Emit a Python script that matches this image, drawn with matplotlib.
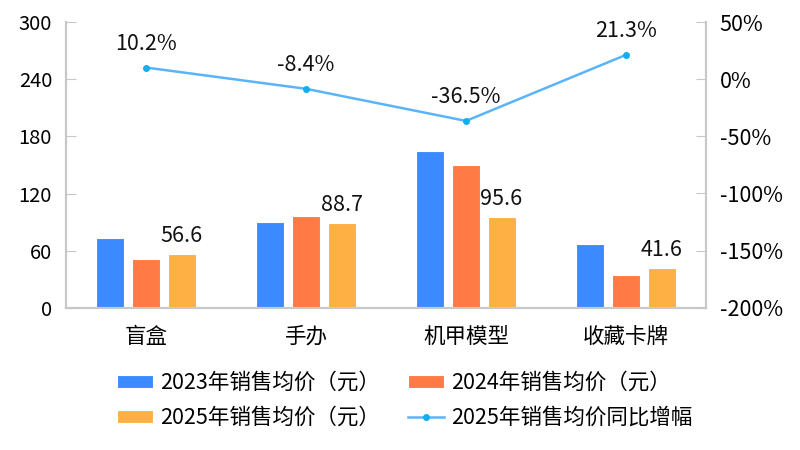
import matplotlib
matplotlib.use("Agg")
import matplotlib.pyplot as plt
import numpy as np
from matplotlib.ticker import FuncFormatter

plt.rcParams['font.family'] = ['Noto Sans CJK SC', 'DejaVu Sans']

categories = ['盲盒', '手办', '机甲模型', '收藏卡牌']
price_2023 = [73.4, 90.0, 164.4, 66.8]
price_2024 = [51.1, 96.5, 150.0, 34.0]
price_2025 = [56.6, 88.7, 95.6, 41.6]
yoy_2025 = [10.2, -8.4, -36.5, 21.3]

series_names = ['2023年销售均价（元）', '2024年销售均价（元）', '2025年销售均价（元）', '2025年销售均价同比增幅']
colors = ['#3c8aff', '#ff7a45', '#ffb045']
line_color = '#5ab4fb'
marker_color = '#12aef0'
spine_color = '#c8c8c8'

fig = plt.figure(figsize=(8, 4.5), dpi=100)
ax = fig.add_axes([0.0825, 0.316, 0.8, 0.635])
ax2 = ax.twinx()

x = np.arange(len(categories))
w = 0.175
off = 0.222
bars = []
for i, (vals, c) in enumerate(zip([price_2023, price_2024, price_2025], colors)):
    b = ax.bar(x + (i - 1) * off, vals, w, color=c, edgecolor='white', linewidth=0.8,
               label=series_names[i], zorder=2)
    bars.append(b)

for xi, v in zip(x + off, price_2025):
    ax.annotate(f'{v:.1f}', (xi, v), xytext=(0, 5), textcoords='offset points',
                ha='center', va='bottom', fontsize=15.5, color='#111111')

ln, = ax2.plot(x, yoy_2025, color=line_color, linewidth=1.8, marker='o', markersize=4,
               markerfacecolor=marker_color, markeredgecolor=marker_color,
               label=series_names[3], zorder=3)
for xi, v in zip(x, yoy_2025):
    ax2.annotate(f'{v:.1f}%', (xi, v), xytext=(0, 9), textcoords='offset points',
                 ha='center', va='bottom', fontsize=15.5, color='#111111')

ax.set_xlim(-0.5, 3.5)
ax.set_ylim(0, 300)
ax.set_yticks([0, 60, 120, 180, 240, 300])
ax2.set_ylim(-200, 50)
ax2.set_yticks([-200, -150, -100, -50, 0, 50])
ax2.yaxis.set_major_formatter(FuncFormatter(lambda v, p: f'{int(v)}%'))

ax.set_xticks(x)
ax.set_xticklabels(categories, fontsize=15.5)
ax.tick_params(axis='x', length=0, pad=13)
ax.tick_params(axis='y', direction='in', length=7, color=spine_color, labelsize=14.5, pad=10)
ax2.tick_params(axis='y', direction='in', length=7, color=spine_color, labelsize=15.5, pad=10)

for a in (ax, ax2):
    a.spines['top'].set_visible(False)
    for s in ('left', 'right', 'bottom'):
        a.spines[s].set_color(spine_color)
        a.spines[s].set_linewidth(1.5)

handles = [bars[0], bars[2], bars[1], ln]
labels = [series_names[0], series_names[2], series_names[1], series_names[3]]
fig.legend(handles, labels, ncol=2, loc='center', bbox_to_anchor=(0.506, 0.11),
           frameon=False, fontsize=15.5, handlelength=1.67, handleheight=0.6,
           columnspacing=1.3, labelspacing=0.6, handletextpad=0.35,
           borderpad=0.0, borderaxespad=0.0)

fig.savefig('out.png', dpi=100)
